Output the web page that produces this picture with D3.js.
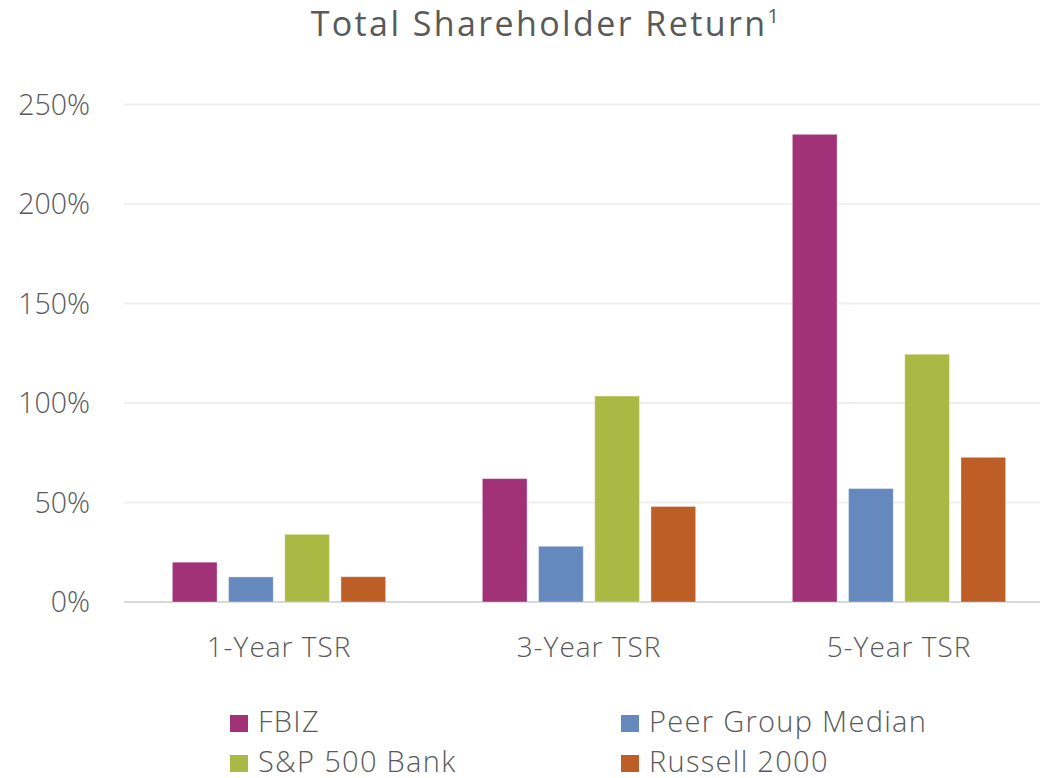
<!doctype html>
<html lang="en">
    <head>
        <meta charset="utf-8">
        <title>Total Shareholder Return</title>
        <script type="text/javascript" src="https://cdn.jsdelivr.net/npm/d3@7"></script>
        <style>
            body { margin: 0; background: #fff; }
            text { font-family: "Open Sans", "Noto Sans", sans-serif; fill: #595959; }
        </style>
    </head>
    <body>
        <script type="text/javascript">
            var categories = ["1-Year TSR", "3-Year TSR", "5-Year TSR"];
            var seriesNames = ["FBIZ", "Peer Group Median", "S&P 500 Bank", "Russell 2000"];
            var fbiz    = [0.20, 0.62, 2.35];
            var peer    = [0.126, 0.28, 0.57];
            var sp500   = [0.34, 1.035, 1.245];
            var russell = [0.127, 0.48, 0.727];
            var yTicks = [0, 0.5, 1, 1.5, 2, 2.5];
            var colors = ["#A23278", "#6589BD", "#AAB944", "#BD5E26"];

            var seriesValues = [fbiz, peer, sp500, russell];

            var svgW = 1040;
            var svgH = 778;
            var margin = {top: 104.5, left: 124, bottom: 602};

            var svg = d3.select("body")
                        .append("svg")
                        .attr("width", svgW)
                        .attr("height", svgH);

            var x0 = d3.scaleBand()
                       .domain(categories)
                       .range([margin.left, margin.left + 930])
                       .paddingInner(0.312)
                       .paddingOuter(0.156);

            var x1 = d3.scaleBand()
                       .domain(seriesNames)
                       .range([0, x0.bandwidth()])
                       .paddingInner(0.205);

            var yScale = d3.scaleLinear()
                           .domain([0, 2.5])
                           .range([margin.bottom, margin.top]);

            // gridlines
            svg.append("g")
               .selectAll("line")
               .data(yTicks)
               .enter()
               .append("line")
               .attr("x1", margin.left)
               .attr("x2", svgW)
               .attr("y1", d => yScale(d))
               .attr("y2", d => yScale(d))
               .attr("stroke", d => d === 0 ? "#D9D9D9" : "#EFEFEF")
               .attr("stroke-width", 2);

            // y labels
            svg.append("g")
               .selectAll("text")
               .data(yTicks)
               .enter()
               .append("text")
               .text(d => d3.format(".0%")(d))
               .attr("x", 90)
               .attr("y", d => yScale(d))
               .attr("dy", "0.36em")
               .attr("text-anchor", "end")
               .attr("font-size", "28.5px")
               .attr("font-weight", 300);

            // bars
            var groups = svg.append("g")
                            .selectAll("g")
                            .data(categories)
                            .enter()
                            .append("g")
                            .attr("transform", d => "translate(" + x0(d) + ",0)");

            groups.selectAll("rect")
                  .data((d, i) => seriesNames.map((s, j) => ({name: s, value: seriesValues[j][i], idx: j})))
                  .enter()
                  .append("rect")
                  .attr("x", d => x1(d.name))
                  .attr("y", d => yScale(d.value))
                  .attr("width", x1.bandwidth())
                  .attr("height", d => yScale(0) - yScale(d.value))
                  .attr("fill", d => colors[d.idx])
                  .attr("stroke", "rgba(255,255,255,0.35)")
                  .attr("stroke-width", 1);

            // category labels
            svg.append("g")
               .selectAll("text")
               .data(categories)
               .enter()
               .append("text")
               .text(d => d)
               .attr("x", d => x0(d) + x0.bandwidth() / 2)
               .attr("y", 657)
               .attr("text-anchor", "middle")
               .attr("font-size", "28px")
               .attr("font-weight", 300)
               .attr("letter-spacing", "1px");

            // title
            var title = svg.append("text")
                           .attr("x", 546)
                           .attr("y", 36)
                           .attr("text-anchor", "middle")
                           .attr("font-size", "34px")
                           .attr("font-weight", 500)
                           .attr("letter-spacing", "2.4px");
            title.append("tspan").text("Total Shareholder Return");
            title.append("tspan")
                 .text("1")
                 .attr("font-size", "20px")
                 .attr("dy", "-13");

            // legend
            var legendX = [230, 621];
            var legendY = [732, 772];
            var legend = svg.append("g")
                            .selectAll("g")
                            .data(seriesNames)
                            .enter()
                            .append("g")
                            .attr("transform", (d, i) => "translate(" + legendX[i % 2] + "," + legendY[Math.floor(i / 2)] + ")");

            legend.append("rect")
                  .attr("x", 0)
                  .attr("y", -17)
                  .attr("width", 18)
                  .attr("height", 17)
                  .attr("fill", (d, i) => colors[i]);

            legend.append("text")
                  .text(d => d)
                  .attr("x", 28)
                  .attr("y", 0)
                  .attr("font-size", "29px")
                  .attr("font-weight", 300)
                  .attr("letter-spacing", "1.3px");
        </script>
    </body>
</html>
